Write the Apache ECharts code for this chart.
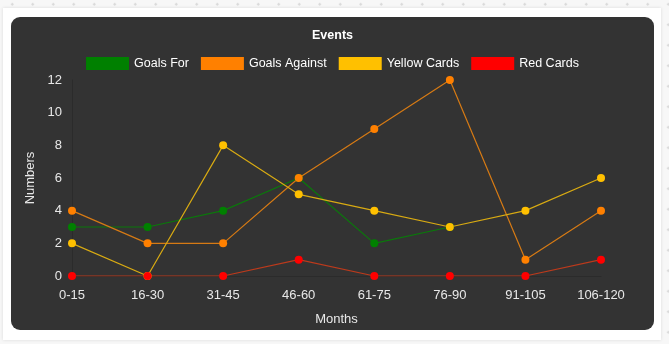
<!DOCTYPE html>
<html>
<head>
<meta charset="utf-8">
<script src="https://cdn.jsdelivr.net/npm/echarts@6/dist/echarts.min.js"></script>
<style>
  html, body { margin: 0; padding: 0; }
  body {
    width: 669px; height: 344px; overflow: hidden; position: relative;
    background-color: #f7f7f7;
    background-image: radial-gradient(circle, #d8d8d8 1.2px, transparent 1.4px);
    background-size: 20.5px 20.5px;
    background-position: 2px -6px;
  }
  #panel {
    position: absolute; left: 3px; top: 8px; width: 658px; height: 332px;
    background: #ffffff; box-shadow: 0 0 3px rgba(0,0,0,0.12);
  }
  #chart {
    position: absolute; left: 11px; top: 17px; width: 643px; height: 313px;
    background: #333333; border-radius: 9px; overflow: hidden;
  }
</style>
</head>
<body>
<div id="panel"></div>
<div id="chart"></div>
<script>
const categories = ['0-15', '16-30', '31-45', '46-60', '61-75', '76-90', '91-105', '106-120'];
const goalsFor = [3, 3, 4, 6, 2, 3];
const goalsAgainst = [4, 2, 2, 6, 9, 12, 1, 4];
const yellowCards = [2, 0, 8, 5, 4, 3, 4, 6];
const redCards = [0, 0, 0, 1, 0, 0, 0, 1];
const yTicks = { min: 0, max: 12, interval: 2 };

const font = '"Liberation Sans", Arial, sans-serif';

function mk(name, data, pointColor, lineColor) {
  return {
    name: name, type: 'line', data: data,
    symbol: 'circle', symbolSize: 8,
    itemStyle: { color: pointColor },
    lineStyle: { color: lineColor, width: 1.2 },
    emphasis: { disabled: true },
    animation: false
  };
}

const chart = echarts.init(document.getElementById('chart'), null, { renderer: 'canvas' });
chart.setOption({
  backgroundColor: 'transparent',
  animation: false,
  textStyle: { fontFamily: font },
  title: {
    text: 'Events', left: 'center', top: 7,
    textStyle: { color: '#ffffff', fontSize: 12.5, fontWeight: 'bold', fontFamily: font }
  },
  legend: {
    top: 35, left: 'center',
    itemWidth: 43, itemHeight: 13, itemGap: 12,
    icon: 'rect',
    textStyle: { color: '#ffffff', fontSize: 12.5, fontFamily: font },
    data: ['Goals For', 'Goals Against', 'Yellow Cards', 'Red Cards']
  },
  grid: { left: 61, right: 53, top: 63, bottom: 54, containLabel: false, outerBoundsMode: 'none' },
  xAxis: {
    type: 'category', data: categories, boundaryGap: false,
    name: 'Months', nameLocation: 'middle', nameGap: 37,
    nameTextStyle: { color: '#e8e8e8', fontSize: 13, fontFamily: font },
    axisLine: { show: true, lineStyle: { color: '#2b2b2b' } },
    axisTick: { show: false },
    axisLabel: { color: '#e8e8e8', fontSize: 13, margin: 13, fontFamily: font },
    splitLine: { show: false }
  },
  yAxis: {
    type: 'value', min: yTicks.min, max: yTicks.max, interval: yTicks.interval,
    name: 'Numbers', nameLocation: 'middle', nameGap: 30, nameRotate: 90,
    nameTextStyle: { color: '#e8e8e8', fontSize: 13, fontFamily: font },
    axisLine: { show: true, lineStyle: { color: '#2b2b2b' } },
    axisTick: { show: false },
    axisLabel: { color: '#e8e8e8', fontSize: 13, margin: 10, fontFamily: font },
    splitLine: { show: false }
  },
  series: [
    mk('Goals For', goalsFor, '#008000', '#0b780b'),
    mk('Goals Against', goalsAgainst, '#ff8000', '#d67a14'),
    mk('Yellow Cards', yellowCards, '#ffc000', '#d8aa12'),
    mk('Red Cards', redCards, '#ff0000', '#bc3a1c')
  ]
});
</script>
</body>
</html>
